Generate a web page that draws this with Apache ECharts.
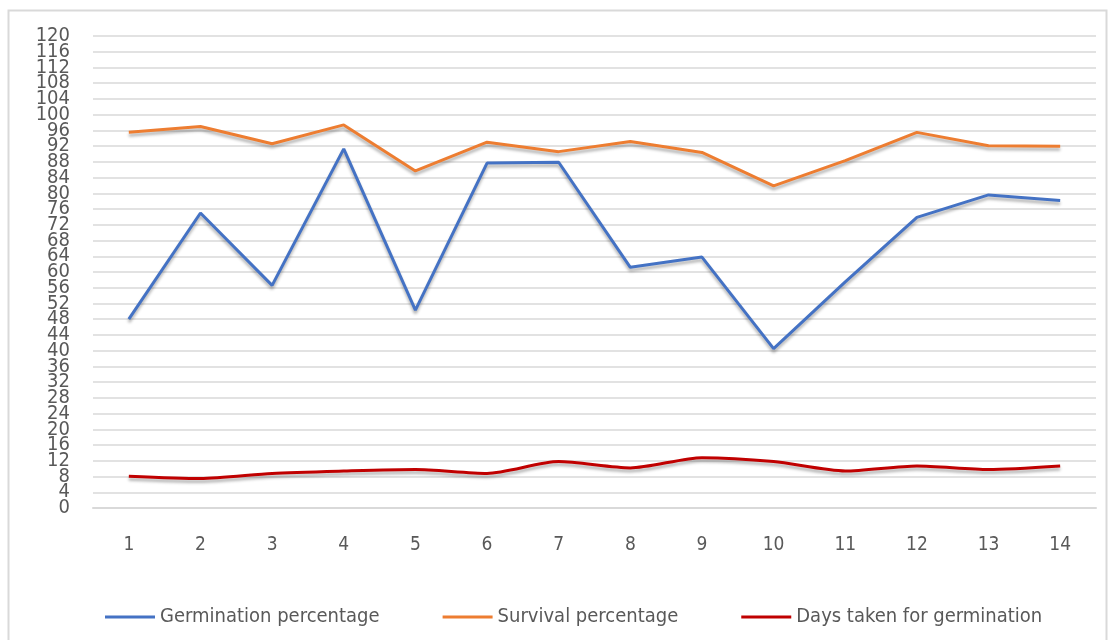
<!DOCTYPE html>
<html>
<head>
<meta charset="utf-8">
<script src="https://cdn.jsdelivr.net/npm/echarts@6/dist/echarts.min.js"></script>
<style>
  html, body { margin: 0; padding: 0; background: #fff; }
  #main { width: 1115px; height: 640px; }
</style>
</head>
<body>
<div id="main"></div>
<script>
var categories = ['1', '2', '3', '4', '5', '6', '7', '8', '9', '10', '11', '12', '13', '14'];
var germination = [48, 75, 56.6, 91.3, 50.3, 87.7, 87.9, 61.2, 63.8, 40.5, 57.5, 73.9, 79.6, 78.2];
var survival = [95.5, 97, 92.6, 97.4, 85.7, 93, 90.6, 93.2, 90.4, 81.9, 88.3, 95.5, 92.1, 92];
var daysTaken = [8.1, 7.5, 8.8, 9.4, 9.8, 8.8, 11.8, 10.2, 12.8, 11.8, 9.4, 10.7, 9.8, 10.7];

var labelFont = '"Liberation Sans Narrow", "DejaVu Sans Condensed", "Roboto", sans-serif';
var gray = '#595959';

var chart = echarts.init(document.getElementById('main'));

function lineSeries(name, data, color, smooth) {
  return {
    name: name,
    type: 'line',
    data: data,
    smooth: smooth,
    symbol: 'none',
    lineStyle: {
      color: color,
      width: 3,
      shadowColor: 'rgba(0,0,0,0.3)',
      shadowBlur: 3,
      shadowOffsetY: 3
    },
    itemStyle: { color: color }
  };
}

// labels are packed tighter than their height, so the end labels (0, 120)
// go on a second copy of the axis to stop echarts dropping their neighbours
function valueAxis(endsOnly) {
  return {
    type: 'value',
    position: 'left',
    min: 0,
    max: 120,
    interval: 4,
    axisLine: { show: false },
    axisTick: { show: false },
    splitLine: { show: !endsOnly, lineStyle: { color: '#d9d9d9', width: 1.5 } },
    axisLabel: {
      color: gray, fontSize: 20, fontFamily: labelFont, margin: 23,
      showMinLabel: endsOnly, showMaxLabel: endsOnly,
      formatter: function (v) {
        if (!endsOnly) return String(v);
        return (v === 0 || v === 120) ? String(v) : '';
      }
    }
  };
}

chart.setOption({
  backgroundColor: '#fff',
  animation: false,
  graphic: [{
    type: 'rect',
    shape: { x: 8.5, y: 10.5, width: 1098, height: 660 },
    style: { fill: 'none', stroke: '#d9d9d9', lineWidth: 2 },
    silent: true
  }],
  grid: { left: 93, right: 19, top: 36, bottom: 132 },
  legend: {
    bottom: 8,
    left: 100,
    icon: 'rect',
    itemWidth: 50,
    itemHeight: 3,
    itemGap: 63,
    textStyle: { color: gray, fontSize: 20, fontFamily: labelFont },
    data: ['Germination percentage', 'Survival percentage', 'Days taken for germination']
  },
  xAxis: {
    type: 'category',
    data: categories,
    boundaryGap: true,
    axisLine: { lineStyle: { color: '#d9d9d9', width: 2 } },
    axisTick: { show: false },
    axisLabel: { color: gray, fontSize: 19, fontFamily: labelFont, margin: 28 }
  },
  yAxis: [valueAxis(false), valueAxis(true)],
  series: [
    lineSeries('Germination percentage', germination, '#4472C4', false),
    lineSeries('Survival percentage', survival, '#ED7D31', false),
    lineSeries('Days taken for germination', daysTaken, '#C00000', 0.25)
  ]
});
</script>
</body>
</html>
